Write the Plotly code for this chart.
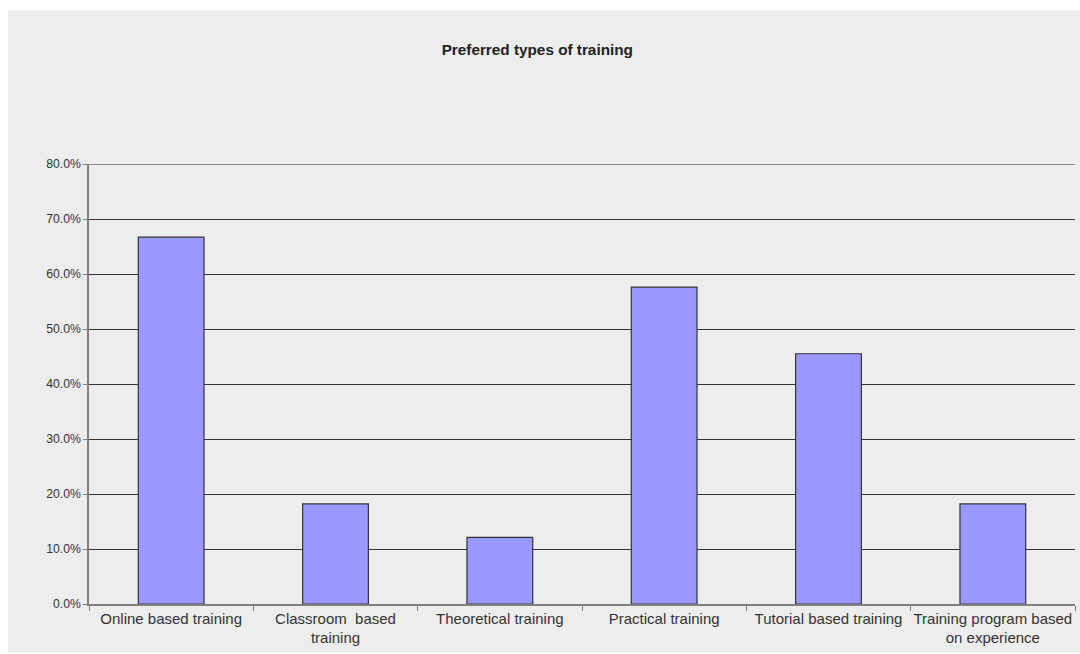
import plotly.graph_objects as go

categories = [
    "Online based training",
    "Classroom  based<br>training",
    "Theoretical training",
    "Practical training",
    "Tutorial based training",
    "Training program based<br>on experience",
]
values = [0.667, 0.182, 0.121, 0.576, 0.455, 0.182]
y_ticks = [0, 0.1, 0.2, 0.3, 0.4, 0.5, 0.6, 0.7, 0.8]
y_max = 0.8

FONT = "Liberation Sans, Arial, sans-serif"
BG = "#EDEDED"

fig = go.Figure(
    go.Bar(
        x=categories,
        y=values,
        marker=dict(color="#9999FF", line=dict(color="#333333", width=1.2)),
        width=0.4,
    )
)

fig.update_layout(
    width=1080,
    height=654,
    margin=dict(l=89, r=5, t=164, b=50),
    paper_bgcolor=BG,
    plot_bgcolor=BG,
    showlegend=False,
    font=dict(family=FONT, color="#333333"),
    title=dict(
        text="<b>Preferred types of training</b>",
        font=dict(family=FONT, size=15.3, color="#222222"),
        x=0.4975,
        xanchor="center",
        y=1 - 50 / 654,
        yanchor="middle",
        xref="container",
        yref="container",
    ),
)

fig.update_xaxes(
    type="category",
    showgrid=False,
    showline=True,
    linecolor="#808080",
    linewidth=1.5,
    ticks="outside",
    tickson="boundaries",
    ticklen=5,
    tickcolor="#808080",
    tickfont=dict(size=15, color="#333333"),
    tickangle=0,
)

fig.update_yaxes(
    range=[0, y_max],
    tickvals=y_ticks,
    tickformat=".1%",
    showgrid=True,
    gridcolor="#333333",
    gridwidth=1,
    zeroline=False,
    showline=True,
    linecolor="#808080",
    linewidth=1.5,
    ticks="outside",
    ticklen=4,
    tickcolor="#808080",
    tickfont=dict(size=12.2, color="#333333"),
)

# top gridline (at the range edge, which plotly does not draw)
fig.add_shape(type="line", xref="paper", yref="y",
              x0=0, x1=1, y0=y_max, y1=y_max,
              line=dict(color="#333333", width=1), layer="above")

# white outer margins around the grey chart area
fig.add_shape(type="rect", xref="paper", yref="paper",
              x0=(0 - 89) / 986, x1=(1080 - 89) / 986,
              y0=(604 - 10) / 440, y1=(604 - 0) / 440,
              fillcolor="white", line=dict(width=0), layer="above")
fig.add_shape(type="rect", xref="paper", yref="paper",
              x0=(0 - 89) / 986, x1=(8 - 89) / 986,
              y0=(604 - 654) / 440, y1=(604 - 0) / 440,
              fillcolor="white", line=dict(width=0), layer="above")
fig.add_shape(type="rect", xref="paper", yref="paper",
              x0=(0 - 89) / 986, x1=(1080 - 89) / 986,
              y0=(604 - 654) / 440, y1=(604 - 653) / 440,
              fillcolor="white", line=dict(width=0), layer="above")

fig.write_html("out.html")
